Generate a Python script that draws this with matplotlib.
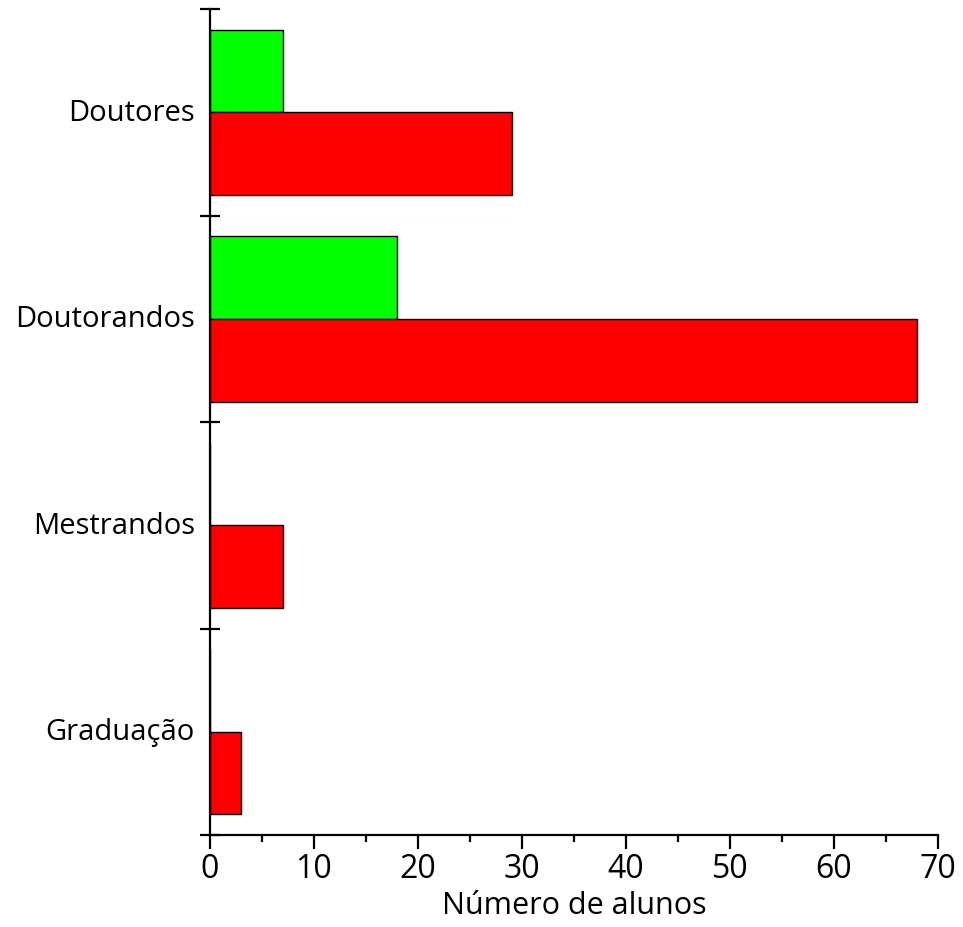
import matplotlib
matplotlib.use("Agg")
import matplotlib.pyplot as plt
import numpy as np

categories = ["Doutores", "Doutorandos", "Mestrandos", "Graduação"]
green_values = [7, 18, 0, 0]
red_values = [29, 68, 7, 3]
x_ticks = [0, 10, 20, 30, 40, 50, 60, 70]
x_label = "Número de alunos"

plt.rcParams['font.family'] = ['Open Sans', 'DejaVu Sans']

fig = plt.figure(figsize=(9.63, 9.28), dpi=100)
ax = fig.add_axes([0.218, 0.099, 0.756, 0.890])

n = len(categories)
centers = np.array([n - 1 - i + 0.5 for i in range(n)])
h = 0.4
ax.barh(centers + h / 2, green_values, height=h, color="#00FF00",
        edgecolor="black", linewidth=1.0, zorder=2)
ax.barh(centers - h / 2, red_values, height=h, color="#FF0000",
        edgecolor="black", linewidth=1.0, zorder=2)

ax.set_xlim(0, 70)
ax.set_ylim(0, n)

ax.spines['top'].set_visible(False)
ax.spines['right'].set_visible(False)
ax.spines['left'].set_linewidth(1.6)
ax.spines['bottom'].set_linewidth(1.6)

ax.set_xticks(x_ticks)
ax.set_xticklabels([str(t) for t in x_ticks], fontsize=23)
ax.set_xticks(np.arange(5, 70, 10), minor=True)
ax.tick_params(axis='x', which='major', direction='out', length=10, width=1.6, pad=2)
ax.tick_params(axis='x', which='minor', direction='out', length=5, width=1.6)

# y: boundary ticks (major, unlabeled), labels at group centers (minor, no tick)
ax.set_yticks(np.arange(0, n + 1))
ax.set_yticklabels([])
ax.set_yticks(centers, minor=True)
ax.set_yticklabels(categories, minor=True, fontsize=21)
ax.tick_params(axis='y', which='major', direction='inout', length=14, width=1.6)
ax.tick_params(axis='y', which='minor', length=0, pad=11)
for lab in ax.get_yticklabels(minor=True):
    lab.set_verticalalignment('center')

ax.set_xlabel(x_label, fontsize=22, labelpad=4)

fig.savefig("out.png", dpi=100)
